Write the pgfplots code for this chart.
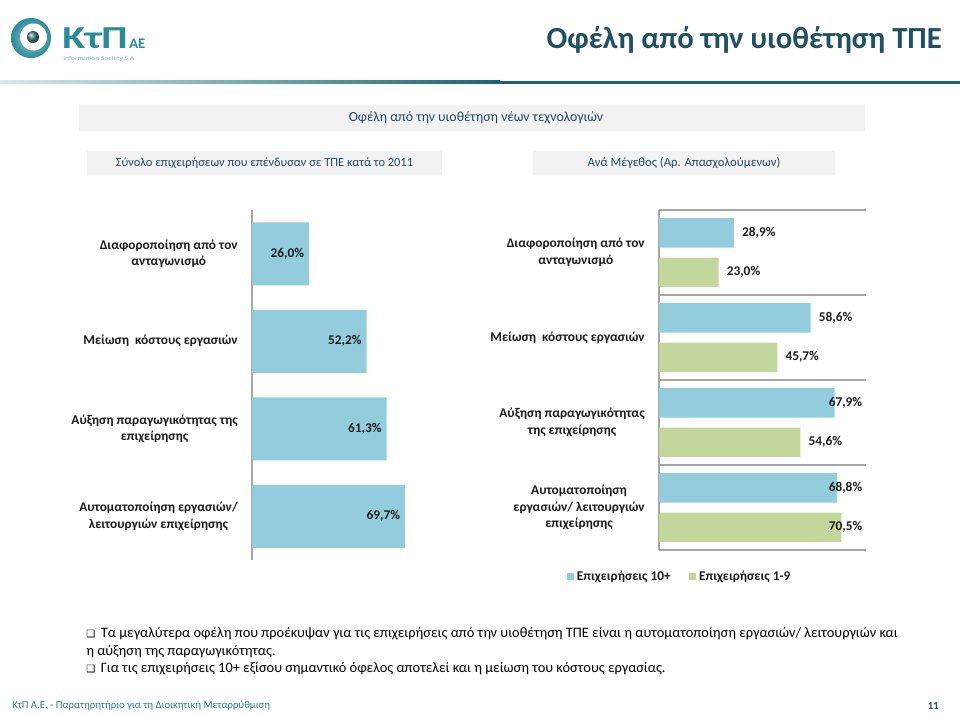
\documentclass[border=0pt]{standalone}
\usepackage{pgfplots}
\pgfplotsset{compat=1.18}
\usepackage{fontspec}
\setmainfont{Carlito}
\newfontfamily\dejavu{DejaVu Sans}
\definecolor{barblue}{HTML}{93CDDD}
\definecolor{bargreen}{HTML}{C3D69B}
\definecolor{titleteal}{HTML}{1F5163}
\definecolor{linedark}{HTML}{1A6373}
\definecolor{linelight}{HTML}{D2ECF0}
\definecolor{bannergray}{HTML}{F2F2F2}
\definecolor{bannertext}{HTML}{1F4A66}
\definecolor{footteal}{HTML}{2E7F8C}
\definecolor{logoteal}{HTML}{2B8A99}
\definecolor{labeldark}{HTML}{1C1C1C}
\definecolor{axisgray}{HTML}{A6A6A6}

\pgfplotsset{
  benefitaxis/.style={
    scale only axis, anchor=north west,
    xbar, xmin=0, xmax=80, ymin=-0.5, ymax=3.5,
    axis x line=none, axis y line*=left,
    y axis line style={-, draw=axisgray, line width=0.8pt},
    ytick={0,1,2,3}, major tick length=0pt,
    yticklabel style={align=center, font=\bfseries\fontsize{10}{12.5}\selectfont, text=labeldark, inner sep=0pt, xshift=-10.5pt},
    clip=false,
    point meta=x,
    nodes near coords={\pgfmathprintnumber{\pgfplotspointmeta}\%},
    every node near coord/.append style={font=\bfseries\fontsize{10}{12}\selectfont, text=labeldark, inner sep=0pt},
    /pgf/number format/use comma,
    /pgf/number format/fixed,
    /pgf/number format/fixed zerofill,
    /pgf/number format/precision=1,
    /pgf/number format/assume math mode=true,
  },
}

\begin{document}
\begin{tikzpicture}
\begin{scope}[x=0.75pt,y=-0.75pt]
\fill[white] (0,0) rectangle (960,715);
\path[use as bounding box] (0,0) rectangle (960,715);
% logo
\shade[inner color=logoteal!45, outer color=logoteal] (31,38) circle (20);
\fill[white] (33.5,37) circle (13.5);
\shade[ball color=logoteal!55!gray] (33,37) circle (6);
\node[anchor=base west, inner sep=0pt, text=logoteal, font=\bfseries\fontsize{24}{24}\selectfont] at (62,48) {\scalebox{1.3}[1]{ΚτΠ}};
\node[anchor=base west, inner sep=0pt, text=logoteal, font=\bfseries\fontsize{11}{11}\selectfont] at (129,48) {ΑΕ};
\node[anchor=base west, inner sep=0pt, text=logoteal!60, font=\fontsize{4.5}{5}\selectfont] at (63,60) {\scalebox{1.25}[1]{Information Society S.A}};
% title
\node[anchor=base east, inner sep=0pt, text=titleteal, font=\bfseries\fontsize{23}{23}\selectfont] at (942,48) {Οφέλη από την υιοθέτηση ΤΠΕ};
% rule
\shade[left color=linelight, right color=linedark] (0,80.5) rectangle (500,83.5);
\fill[linedark] (499.5,80.5) rectangle (960,83.5);
% banners
\fill[bannergray] (79,105) rectangle (865,131);
\node[text=bannertext, font=\fontsize{10.4}{12}\selectfont] at (476,118) {Οφέλη από την υιοθέτηση νέων τεχνολογιών};
\fill[bannergray] (87,151) rectangle (442,175);
\node[text=bannertext, font=\fontsize{9.3}{11}\selectfont] at (264.5,163) {Σύνολο επιχειρήσεων που επένδυσαν σε ΤΠΕ κατά το 2011};
\fill[bannergray] (533,151) rectangle (835,175);
\node[text=bannertext, font=\fontsize{9.5}{11}\selectfont] at (684,163) {Ανά Μέγεθος (Αρ. Απασχολούμενων)};
% bullets
\node[anchor=base west, inner sep=0pt, font=\fontsize{10.8}{13}\selectfont] at (86,637) {{\dejavu\fontsize{7.5}{8}\selectfont ❑}\, Τα μεγαλύτερα οφέλη που προέκυψαν για τις επιχειρήσεις από την υιοθέτηση ΤΠΕ είναι η αυτοματοποίηση εργασιών/ λειτουργιών και};
\node[anchor=base west, inner sep=0pt, font=\fontsize{10.8}{13}\selectfont] at (86,655) {η αύξηση της παραγωγικότητας.};
\node[anchor=base west, inner sep=0pt, font=\fontsize{10.8}{13}\selectfont] at (86,672.5) {{\dejavu\fontsize{7.5}{8}\selectfont ❑}\, Για τις επιχειρήσεις 10+ εξίσου σημαντικό όφελος αποτελεί και η μείωση του κόστους εργασίας.};
% footer
\node[anchor=west, inner sep=0pt, text=footteal, font=\fontsize{8}{9}\selectfont] at (12,706) {ΚτΠ Α.Ε. - Παρατηρητήριο για τη Διοικητική Μεταρρύθμιση};
\node[anchor=east, inner sep=0pt, text=titleteal, font=\bfseries\fontsize{8}{9}\selectfont] at (939,706) {11};
\end{scope}

% left chart: all firms
\begin{axis}[benefitaxis, at={(189pt,-157.5pt)}, width=131.7pt, height=262.5pt, bar width=47.25pt,
  yticklabels={{Αυτοματοποίηση εργασιών/\\λειτουργιών επιχείρησης},{Αύξηση παραγωγικότητας της\\επιχείρησης},{Μείωση\ \ κόστους εργασιών},{Διαφοροποίηση από τον\\ανταγωνισμό}},
]
\addplot[fill=barblue, draw=none, bar shift=0pt, every node near coord/.append style={anchor=east, xshift=-3.5pt}] coordinates {(69.7,0) (61.3,1) (52.2,2) (26.0,3)};
\end{axis}

% right chart: by size
\begin{axis}[benefitaxis, at={(494.25pt,-157.5pt)}, width=155.25pt, height=255pt, bar width=22.1pt,
  yticklabels={{Αυτοματοποίηση\\εργασιών/ λειτουργιών\\επιχείρησης},{Αύξηση παραγωγικότητας\\της επιχείρησης},{Μείωση\ \ κόστους εργασιών},{Διαφοροποίηση από τον\\ανταγωνισμό}},
  extra y ticks={-0.5,0.5,1.5,2.5,3.5}, extra y tick labels={},
  extra y tick style={grid=major},
  major grid style={draw=axisgray, line width=0.8pt},
  visualization depends on={rawx \as \rawxv},
  every node near coord/.append style={anchor=west, xshift={6-max(0,(\rawxv-62.4)*1.935)}},
  legend style={at={(-0.444,-0.079)}, anchor=west, draw=none, fill=none, inner sep=0pt, legend columns=2, font=\bfseries\fontsize{10}{12}\selectfont, text=labeldark, /tikz/every even column/.append style={column sep=12pt}},
  legend image code/.code={\path[#1] (0pt,-2.6pt) rectangle (5.2pt,2.6pt);},
]
\addplot[fill=barblue, draw=none, bar shift=14.8pt] coordinates {(68.8,0) (67.9,1) (58.6,2) (28.9,3)};
\addlegendentry{Επιχειρήσεις 10+}
\addplot[fill=bargreen, draw=none, bar shift=-14.8pt] coordinates {(70.5,0) (54.6,1) (45.7,2) (23.0,3)};
\addlegendentry{Επιχειρήσεις 1-9}
\end{axis}
\end{tikzpicture}
\end{document}
